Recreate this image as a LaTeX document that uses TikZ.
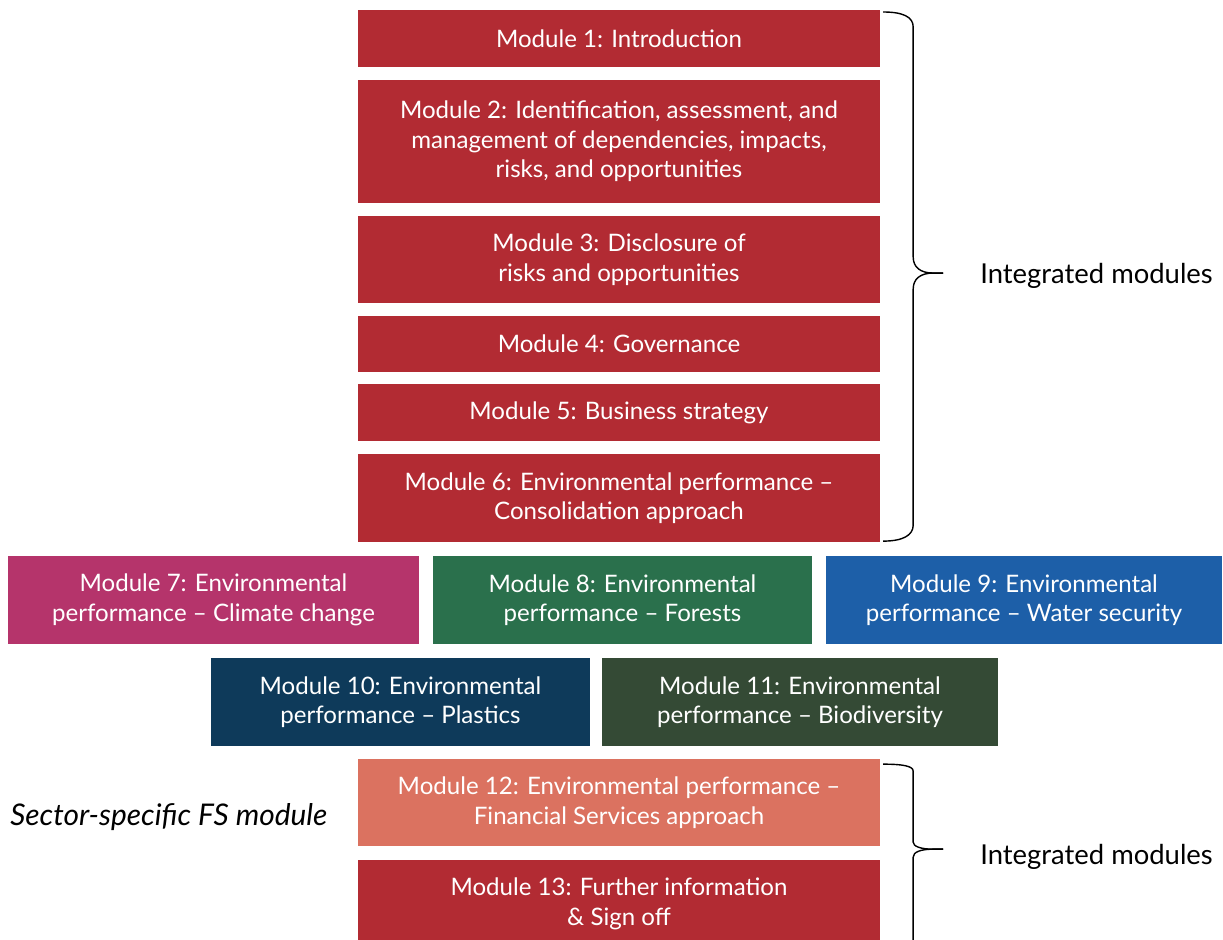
\documentclass[tikz,border=0pt]{standalone}
\usepackage{fontspec}
\setmainfont{Lato}
\usepackage{tikz}
\definecolor{modred}{HTML}{B22B33}
\definecolor{modpink}{HTML}{B5346B}
\definecolor{modgreen}{HTML}{2A704C}
\definecolor{modblue}{HTML}{1D5FA8}
\definecolor{modnavy}{HTML}{0E3A5A}
\definecolor{modforest}{HTML}{344A35}
\definecolor{modsalmon}{HTML}{DB7260}
\tikzset{
	modbox/.style={fill=modred, text=white, align=center, inner sep=0pt,
		font=\fontsize{13.7}{16.8}\selectfont},
	wide/.style={minimum width=10.44cm},
	bracelabel/.style={anchor=west, inner sep=0pt, font=\fontsize{15.6}{18}\selectfont},
	braceline/.style={line width=0.8pt}
}
\begin{document}
\begin{tikzpicture}
			\useasboundingbox (0,0) rectangle (24.46,-18.8);
			\node[modbox, wide, minimum height=1.14cm] (M1) at (12.38,-0.77) {Module 1: Introduction};
			\node[modbox, wide, minimum height=2.46cm] (M2) at (12.38,-2.83) {Module 2: Identification, assessment, and\\management of dependencies, impacts,\\risks, and opportunities};
			\node[modbox, wide, minimum height=1.74cm] (M3) at (12.38,-5.19) {Module 3: Disclosure of\\risks and opportunities};
			\node[modbox, wide, minimum height=1.12cm] (M4) at (12.38,-6.88) {Module 4: Governance};
			\node[modbox, wide, minimum height=1.14cm] (M5) at (12.38,-8.25) {Module 5: Business strategy};
			\node[modbox, wide, minimum height=1.76cm] (M6) at (12.38,-9.96) {Module 6: Environmental performance --\\Consolidation approach};
			
			\node[modbox, fill=modpink, minimum width=8.22cm, minimum height=1.76cm] (M7) at (4.27,-12.0) {Module 7: Environmental\\performance -- Climate change};
			\node[modbox, fill=modgreen, minimum width=7.58cm, minimum height=1.76cm] (M8) at (12.45,-12.0) {Module 8: Environmental\\performance -- Forests};
			\node[modbox, fill=modblue, minimum width=7.92cm, minimum height=1.76cm] (M9) at (20.48,-12.0) {Module 9: Environmental\\performance -- Water security};
			\node[modbox, fill=modnavy, minimum width=7.58cm, minimum height=1.76cm] (M10) at (8.01,-14.04) {Module 10: Environmental\\performance -- Plastics};
			\node[modbox, fill=modforest, minimum width=7.92cm, minimum height=1.76cm] (M11) at (16.0,-14.04) {Module 11: Environmental\\performance -- Biodiversity};
			
			\node[modbox, wide, fill=modsalmon, minimum height=1.74cm] (M12) at (12.38,-16.05) {Module 12: Environmental performance --\\Financial Services approach};
			\node[modbox, wide, minimum height=1.76cm] (M13) at (12.38,-18.08) {Module 13: Further information\\\& Sign off};
			\node[anchor=west, inner sep=0pt, font=\fontsize{17}{20}\selectfont\itshape] (fs) at (0.2,-16.34) {Sector-specific FS module};
			
			\begin{scope}[x=0.02cm, y=-0.02cm]
				\coordinate (tipA) at (943,273);
				\coordinate (tipB) at (943,849);
				\draw[braceline] (883,12) .. controls (903,12) and (913,17) .. (913,27) -- (913,257)
					.. controls (913,267) and (920,273) .. (933,273) -- (tipA);
				\draw[braceline] (tipA) -- (933,273) .. controls (920,273) and (913,279) .. (913,289)
					-- (913,525) .. controls (913,535) and (903,541) .. (883,541);
				\draw[braceline] (883,764) .. controls (903,764) and (913,766) .. (913,771) -- (913,842)
					.. controls (913,846) and (920,849) .. (933,849) -- (tipB);
				\draw[braceline] (tipB) -- (933,849) .. controls (920,849) and (913,852) .. (913,857)
					-- (913,945);
			\end{scope}
			\node[bracelabel] (intA) at (19.6,-5.52) {Integrated modules};
			\node[bracelabel] (intB) at (19.6,-17.14) {Integrated modules};
		\end{tikzpicture}
\end{document}
